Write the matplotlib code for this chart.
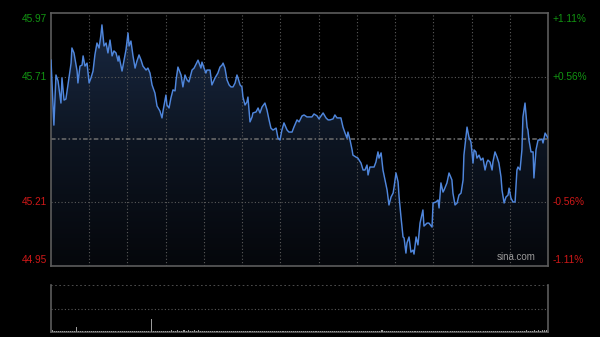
import numpy as np
import matplotlib
matplotlib.use("Agg")
import matplotlib.pyplot as plt
from matplotlib.colors import LinearSegmentedColormap

plt.rcParams['font.family'] = ['Liberation Sans', 'DejaVu Sans']

# ---------------- data ----------------
prev_close = 45.46
y_min, y_max = 44.95, 45.97
left_labels = ["45.97", "45.71", "45.21", "44.95"]
left_values = [45.97, 45.71, 45.21, 44.95]
right_labels = ["+1.11%", "+0.56%", "-0.56%", "-1.11%"]
label_colors = ["#129412", "#129412", "#d01818", "#d01818"]

minutes = [0.0, 1.4, 2.4, 3.4, 4.8, 5.3, 6.3, 7.2, 8.2, 9.7, 10.1, 11.1, 12.6, 13.0, 14.0, 15.0, 15.5, 16.4, 17.4, 18.4,
           19.3, 20.3, 21.2, 22.2, 23.2, 24.1, 24.6, 25.6, 26.6, 27.5, 28.5, 29.5, 30.4, 31.4, 32.4, 32.8, 34.3, 35.3, 36.2, 37.2,
           37.7, 38.6, 39.6, 40.6, 41.5, 42.5, 43.5, 44.4, 45.9, 46.8, 47.8, 48.8, 50.2, 51.2, 52.6, 53.6, 54.1, 55.5, 56.0, 57.0,
           57.9, 58.9, 59.9, 60.4, 61.3, 62.8, 63.7, 64.7, 65.7, 66.6, 68.1, 69.1, 70.5, 71.0, 72.4, 72.9, 73.9, 74.8, 75.3, 76.8,
           77.7, 79.2, 80.6, 81.6, 82.6, 83.1, 84.0, 85.0, 86.0, 86.9, 87.9, 88.9, 89.8, 90.3, 91.3, 92.2, 92.7, 93.7, 94.6, 95.1,
           96.1, 97.1, 97.5, 99.0, 100.0, 100.9, 101.9, 103.3, 104.3, 105.3, 106.2, 107.2, 108.7, 109.6, 110.6, 111.5, 112.5, 114.0, 114.9, 116.4,
           117.3, 118.8, 119.8, 121.2, 122.2, 123.6, 124.6, 126.0, 127.0, 128.5, 129.4, 130.4, 131.4, 132.8, 133.8, 134.7, 136.2, 137.1, 138.1, 139.1,
           140.0, 141.0, 142.0, 142.9, 143.4, 144.4, 145.4, 145.8, 147.3, 148.2, 149.7, 150.7, 151.6, 152.6, 153.1, 154.0, 155.0, 156.0, 156.9, 157.9,
           158.4, 159.4, 160.3, 161.3, 162.3, 163.2, 164.2, 165.2, 165.6, 166.6, 167.6, 168.1, 169.0, 170.0, 170.5, 171.4, 171.9, 172.9, 173.8, 174.8,
           175.3, 176.3, 177.2, 178.2, 179.6, 180.1, 181.6, 182.5, 184.0, 184.5, 185.9, 186.9, 187.4, 188.3, 189.3, 189.8, 191.2, 192.2, 193.6, 194.1,
           195.1, 196.1, 197.0, 198.0, 199.0, 199.4, 200.9, 201.8, 202.8, 203.8, 204.3, 205.2, 205.7, 206.7, 207.6, 208.6, 209.6, 210.5, 211.0, 212.0,
           213.0, 213.4, 214.4, 215.4, 216.3, 217.3, 217.8, 218.8, 219.7, 220.7, 221.2, 222.1, 223.1, 224.1, 225.0, 225.5, 226.5, 227.4, 227.9, 228.9,
           229.9, 230.3, 230.8, 231.8, 232.8, 233.2, 234.2, 235.2, 236.1, 237.1, 237.6, 238.6, 240.0]

prices = [45.780, 45.518, 45.720, 45.696, 45.607, 45.708, 45.619, 45.623, 45.680, 45.768, 45.829, 45.809, 45.736, 45.688, 45.756, 45.760, 45.797, 45.756, 45.768, 45.688,
          45.708, 45.736, 45.801, 45.849, 45.829, 45.881, 45.922, 45.837, 45.849, 45.809, 45.861, 45.797, 45.817, 45.809, 45.776, 45.797, 45.736, 45.780, 45.821, 45.889,
          45.837, 45.857, 45.797, 45.748, 45.776, 45.801, 45.780, 45.756, 45.740, 45.748, 45.728, 45.680, 45.647, 45.595, 45.575, 45.547, 45.575, 45.639, 45.599, 45.587,
          45.627, 45.660, 45.656, 45.700, 45.752, 45.720, 45.672, 45.720, 45.700, 45.692, 45.740, 45.748, 45.772, 45.780, 45.748, 45.772, 45.748, 45.728, 45.740, 45.740,
          45.680, 45.708, 45.728, 45.752, 45.760, 45.768, 45.748, 45.700, 45.680, 45.672, 45.672, 45.688, 45.720, 45.708, 45.680, 45.672, 45.631, 45.599, 45.611, 45.631,
          45.531, 45.551, 45.567, 45.571, 45.587, 45.567, 45.591, 45.607, 45.579, 45.539, 45.506, 45.498, 45.506, 45.466, 45.458, 45.498, 45.527, 45.498, 45.490, 45.490,
          45.510, 45.539, 45.531, 45.555, 45.559, 45.551, 45.551, 45.551, 45.563, 45.555, 45.543, 45.555, 45.567, 45.547, 45.539, 45.539, 45.543, 45.559, 45.547, 45.547,
          45.547, 45.510, 45.486, 45.466, 45.490, 45.458, 45.418, 45.397, 45.389, 45.385, 45.365, 45.337, 45.337, 45.357, 45.317, 45.349, 45.349, 45.349, 45.369, 45.410,
          45.385, 45.406, 45.337, 45.297, 45.256, 45.196, 45.228, 45.244, 45.264, 45.325, 45.289, 45.228, 45.148, 45.067, 45.063, 45.002, 45.043, 45.067, 45.006, 45.014,
          44.998, 45.067, 45.035, 45.123, 45.176, 45.111, 45.123, 45.123, 45.107, 45.204, 45.208, 45.216, 45.184, 45.285, 45.248, 45.256, 45.285, 45.325, 45.297, 45.244,
          45.196, 45.204, 45.236, 45.244, 45.297, 45.397, 45.510, 45.470, 45.450, 45.365, 45.418, 45.410, 45.385, 45.397, 45.377, 45.385, 45.337, 45.369, 45.377, 45.369,
          45.337, 45.369, 45.410, 45.389, 45.365, 45.309, 45.256, 45.204, 45.228, 45.236, 45.264, 45.224, 45.208, 45.208, 45.337, 45.349, 45.337, 45.418, 45.551, 45.607,
          45.510, 45.498, 45.458, 45.410, 45.410, 45.305, 45.418, 45.458, 45.458, 45.462, 45.446, 45.486, 45.466]

volume = [4, 3, 2, 2, 3, 2, 2, 2, 3, 2, 2, 3, 11, 3, 2, 2, 2, 3, 2, 2,
          2, 3, 2, 2, 3, 2, 2, 2, 3, 2, 2, 2, 3, 2, 2, 3, 2, 2, 2, 2,
          3, 2, 2, 2, 2, 3, 2, 2, 28, 3, 2, 2, 2, 3, 2, 3, 2, 3, 4, 3,
          3, 4, 3, 3, 4, 3, 4, 3, 3, 4, 3, 4, 3, 3, 2, 3, 2, 2, 3, 2,
          2, 2, 3, 2, 2, 2, 2, 3, 2, 2, 2, 2, 2, 3, 2, 2, 2, 2, 2, 3,
          2, 2, 2, 2, 2, 2, 3, 2, 2, 2, 2, 2, 2, 2, 3, 2, 2, 2, 2, 2,
          2, 2, 3, 2, 2, 2, 2, 3, 2, 2, 2, 2, 2, 2, 2, 3, 2, 2, 2, 2,
          3, 2, 2, 2, 2, 2, 2, 3, 2, 2, 2, 2, 3, 2, 2, 2, 2, 2, 3, 2,
          5, 2, 2, 3, 2, 2, 2, 2, 3, 2, 2, 2, 2, 2, 3, 2, 2, 2, 2, 2,
          3, 2, 2, 2, 2, 3, 2, 2, 2, 2, 2, 3, 2, 2, 2, 2, 3, 2, 2, 2,
          2, 3, 2, 2, 2, 3, 2, 2, 2, 2, 3, 2, 2, 3, 2, 2, 2, 3, 2, 3,
          2, 3, 2, 3, 2, 3, 3, 2, 3, 3, 4, 3, 3, 3, 4, 3, 4, 3, 4, 4,
          5, 4, 4, 5, 4, 6, 5, 12, 19]

# ---------------- figure ----------------
W, H = 600, 337
fig = plt.figure(figsize=(W / 100, H / 100), dpi=100, facecolor="black")

def frac(x0, y0, x1, y1):
    return [x0 / W, 1 - y1 / H, (x1 - x0) / W, (y1 - y0) / H]

ax = fig.add_axes(frac(51, 13, 548, 266))
ax.set_facecolor("black")
ax.set_xlim(0, 240)
ax.set_ylim(y_min, y_max)

x = np.array(minutes)
p = np.array(prices)

# gradient fill under the line
cmap = LinearSegmentedColormap.from_list("g", ["#05070b", "#0d1522", "#1a2a44"])
grad = np.linspace(0, 1, 256).reshape(-1, 1)
poly = ax.fill_between(x, p, y_min, color="none", lw=0)
im = ax.imshow(grad, extent=[0, 240, y_min, y_max], origin="lower", aspect="auto",
               cmap=cmap, zorder=1)
im.set_clip_path(poly.get_paths()[0], transform=ax.transData)

# grid
grid_kw = dict(color="#5a5a5a", lw=0.8, ls=(0, (1, 2)), zorder=2)
for k in range(1, 13):
    ax.axvline(k * 240 / 13, **grid_kw)
for v in [45.71, 45.21]:
    ax.axhline(v, **grid_kw)
ax.axhline(prev_close, color="#6e6e6e", lw=1.1, ls=(0, (3, 1.5, 1, 1.5)), zorder=2)

ax.plot(x, p, color="#4f86dc", lw=1.05, zorder=3)

for s in ax.spines.values():
    s.set_color("#5c5c5c")
    s.set_linewidth(1.2)
ax.set_xticks([])
ax.set_yticks([])

# labels
for i, (lab, val, rl, c) in enumerate(zip(left_labels, left_values, right_labels, label_colors)):
    off = 0
    if i == 0:
        off = -6
    elif i == 3:
        off = 6
    ax.annotate(lab, xy=(0, val), xycoords=("axes fraction", "data"),
                xytext=(-3, off * 0.72), textcoords="offset points",
                ha="right", va="center", color=c, fontsize=7.3)
    ax.annotate(rl, xy=(1, val), xycoords=("axes fraction", "data"),
                xytext=(3.5, off * 0.72), textcoords="offset points",
                ha="left", va="center", color=c, fontsize=7.3)

ax.text(0.976, 0.016, "sina.com", transform=ax.transAxes, ha="right", va="bottom",
        color="#9a9a9a", fontsize=7, zorder=4)

# ---------------- volume ----------------
axv = fig.add_axes(frac(51, 285, 548, 332))
axv.set_facecolor("black")
axv.set_xlim(-0.5, 240.5)
axv.set_ylim(0, 100)
axv.bar(np.arange(len(volume)), volume, width=0.5, color="#9a9a9a", lw=0, zorder=3)
axv.axhline(50, color="#5a5a5a", lw=0.8, ls=(0, (1, 2)))
axv.axhline(100, color="#5a5a5a", lw=1.2, ls=(0, (1, 1.5)))
for side in ["left", "right", "bottom"]:
    axv.spines[side].set_color("#5c5c5c")
    axv.spines[side].set_linewidth(1.2)
axv.spines["top"].set_visible(False)
axv.set_xticks([])
axv.set_yticks([])

fig.savefig("out.png", dpi=100, facecolor="black")
